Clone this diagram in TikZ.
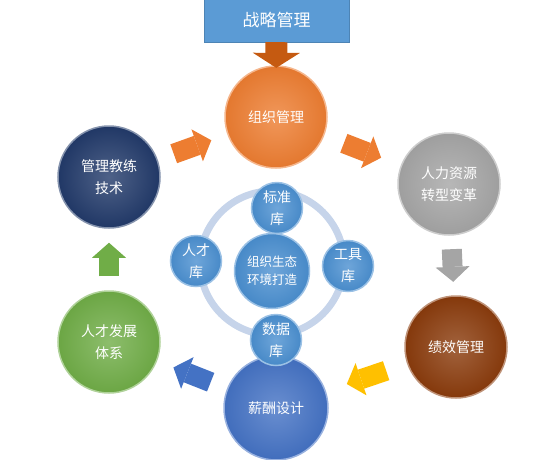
\documentclass[tikz,border=0pt]{standalone}
\usepackage{fontspec}
\setmainfont{Noto Sans CJK SC}
\usepackage{tikz}
\usetikzlibrary{arrows.meta}

\definecolor{stratblue}{HTML}{5B9BD5}
\definecolor{stratbrown}{HTML}{C55A11}
\definecolor{orgorange}{HTML}{ED7D31}
\definecolor{hrgray}{HTML}{A5A5A5}
\definecolor{perfbrown}{HTML}{8A3B0C}
\definecolor{payblue}{HTML}{4472C4}
\definecolor{talgreen}{HTML}{70AD47}
\definecolor{coachnavy}{HTML}{223A6A}
\definecolor{libblue}{HTML}{4A8FD0}
\definecolor{ringblue}{HTML}{C6D4EA}
\definecolor{flowyellow}{HTML}{FFC000}

\begin{document}
\begin{tikzpicture}[x=1pt, y=-1pt, font=\fontsize{14}{22}\selectfont,
  ball/.style={circle, inner sep=0pt, align=center, text=white, minimum size=102pt,
    inner color=#1!80!white, outer color=#1!96!black, draw=#1!55!white, line width=1.5pt},
  lib/.style={ball=libblue, minimum size=51pt},
  flow/.style={line width=20pt, draw=#1,
    -{Triangle[width=34pt, length=15pt, line width=0pt]}}]
\useasboundingbox (0,0) rectangle (536,459);

% Cycle
\node[draw=stratblue!85!black, fill=stratblue, text=white, minimum width=145pt,
  minimum height=44pt, font=\fontsize{17}{20}\selectfont] (strat) at (276.5,20) {战略管理};
\node[ball=orgorange] (org) at (276,117) {组织管理};
\node[ball=hrgray] (hrt) at (449,184) {人力资源\\转型变革};
\node[ball=perfbrown] (perf) at (456,347) {绩效管理};
\node[ball=payblue, minimum size=104pt] (pay) at (276,408) {薪酬设计};
\node[ball=talgreen] (talent) at (109,342) {人才发展\\体系};
\node[ball=coachnavy] (coach) at (109,177) {管理教练\\技术};

% Ecosystem
\node[circle, draw=ringblue, line width=7pt, minimum size=144pt] (ring) at (272,263) {};
\node[ball=libblue, minimum size=75pt, font=\fontsize{12.5}{18}\selectfont] (core) at (272,271) {组织生态\\环境打造};
\node[lib] (stdlib) at (277,208) {标准\\库};
\node[lib] (tallib) at (196,261) {人才\\库};
\node[lib] (toollib) at (348,266) {工具\\库};
\node[lib] (datalib) at (276,340) {数据\\库};

% Flow
\draw[line width=22pt, draw=stratbrown, shorten >=-2.6pt,
  -{Triangle[width=47pt, length=15pt, line width=0pt]}] (strat) -- (org);
\draw[flow=orgorange, shorten <=17pt, shorten >=17pt] (coach) -- (org);
\draw[flow=orgorange, shorten <=21pt, shorten >=21pt] (org) -- (hrt);
\draw[flow=hrgray, shorten <=13.5pt, shorten >=13.5pt] (hrt) -- (perf);
\draw[flow=flowyellow, shorten <=22pt, shorten >=22pt] (perf) -- (pay);
\draw[flow=payblue, shorten <=17.5pt, shorten >=17.5pt] (pay) -- (talent);
\draw[flow=talgreen, shorten <=14pt, shorten >=14pt] (talent) -- (coach);
\end{tikzpicture}
\end{document}
